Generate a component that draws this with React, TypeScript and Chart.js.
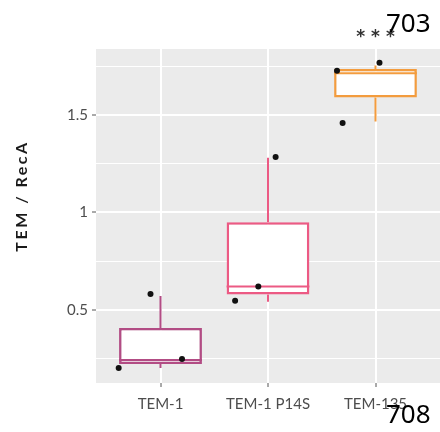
import { useEffect, useRef } from 'react';
import { Chart, registerables } from 'chart.js';

Chart.register(...registerables);

// ---- data ----
const categories = ['TEM-1', 'TEM-1 P14S', 'TEM-135'];
const boxColors = ['#B24C84', '#EC5A84', '#F39C3E'];
const q1 = [0.223, 0.58, 1.589];
const medians = [0.244, 0.62, 1.714];
const q3 = [0.408, 0.95, 1.736];
const whiskerLow = [0.203, 0.543, 1.466];
const whiskerHigh = [0.572, 1.281, 1.753];

// jittered observations (x = category index + jitter)
const tem1X = [-0.389, -0.093, 0.2];
const tem1Y = [0.203, 0.582, 0.249];
const p14sX = [0.694, 0.91, 1.071];
const p14sY = [0.548, 0.62, 1.284];
const tem135X = [1.642, 1.694, 2.037];
const tem135Y = [1.726, 1.459, 1.767];

const yMajor = [0.5, 1, 1.5];
const yMajorLabels = ['0.5', '1', '1.5'];
const yMinor = [0.25, 0.75, 1.25, 1.75];
const yMin = 0.126;
const yMax = 1.838;
const xMin = -0.6;
const xMax = 2.6;
const yTitle = 'TEM / RecA';
const sigLabel = '***';
const sigCategory = 2;
const sigY = 1.926;
const overlayTop = '703';
const overlayBottom = '708';

const BOX_WIDTH = 0.77;
const PANEL_BG = '#EBEBEB';

export default function App() {
  const ref = useRef<HTMLCanvasElement | null>(null);

  useEffect(() => {
    document.body.style.overflow = 'hidden';
    const canvas = ref.current;
    if (!canvas) return;

    const points = [
      ...tem1X.map((x, i) => ({ x, y: tem1Y[i] })),
      ...p14sX.map((x, i) => ({ x, y: p14sY[i] })),
      ...tem135X.map((x, i) => ({ x, y: tem135Y[i] })),
    ];

    const halfBoxPx = (c: any) => {
      const s = c.chart.scales.x;
      return Math.abs(s.getPixelForValue(BOX_WIDTH / 2) - s.getPixelForValue(0));
    };

    const whiskerSets = categories.map((_, i) => ({
      type: 'line' as const,
      data: [
        { x: i, y: q3[i] },
        { x: i, y: whiskerHigh[i] },
        { x: i, y: null },
        { x: i, y: q1[i] },
        { x: i, y: whiskerLow[i] },
      ],
      borderColor: boxColors[i],
      borderWidth: 2,
      pointRadius: 0,
      spanGaps: false,
      order: 3,
    }));

    const panelPlugin = {
      id: 'panelBg',
      beforeDraw(chart: any) {
        const { ctx, chartArea: a } = chart;
        ctx.save();
        ctx.fillStyle = PANEL_BG;
        ctx.fillRect(a.left, a.top, a.right - a.left, a.bottom - a.top);
        ctx.restore();
      },
    };

    const textPlugin = {
      id: 'texts',
      afterDraw(chart: any) {
        const { ctx } = chart;
        const xs = chart.scales.x;
        const ys = chart.scales.y;
        ctx.save();
        // y title
        ctx.translate(22, 197);
        ctx.rotate(-Math.PI / 2);
        ctx.font = 'bold 16px Lato';
        ctx.fillStyle = '#1A1A1A';
        ctx.textAlign = 'center';
        ctx.textBaseline = 'middle';
        (ctx as any).letterSpacing = '2.5px';
        ctx.fillText(yTitle, 1, 0);
        ctx.restore();

        // significance stars
        ctx.save();
        ctx.font = 'bold 17px "DejaVu Sans"';
        (ctx as any).letterSpacing = '6px';
        ctx.fillStyle = '#333333';
        ctx.textAlign = 'center';
        ctx.textBaseline = 'alphabetic';
        ctx.fillText(sigLabel, xs.getPixelForValue(sigCategory) + 3, ys.getPixelForValue(sigY) + 10);
        ctx.restore();

        // overlay numbers
        ctx.save();
        ctx.font = '26px "Noto Sans"';
        ctx.fillStyle = '#000000';
        ctx.textAlign = 'left';
        ctx.textBaseline = 'alphabetic';
        ctx.fillText(overlayTop, 386, 32);
        ctx.fillText(overlayBottom, 386, 423);
        ctx.restore();
      },
    };

    const chart = new Chart(canvas, {
      type: 'bar',
      data: {
        datasets: [
          {
            type: 'scatter',
            data: points,
            pointRadius: 3,
            pointBackgroundColor: '#111111',
            pointBorderWidth: 0,
            order: 0,
          } as any,
          {
            type: 'scatter',
            data: categories.map((_, i) => ({ x: i, y: medians[i] })),
            pointStyle: 'line',
            pointRadius: halfBoxPx,
            pointBorderColor: boxColors,
            pointBorderWidth: 2,
            order: 1,
          } as any,
          {
            type: 'bar',
            data: categories.map((_, i) => ({ x: i, y: [q1[i], q3[i]] })),
            backgroundColor: '#FFFFFF',
            borderColor: boxColors,
            borderWidth: 2.5,
            borderSkipped: false,
            barPercentage: BOX_WIDTH,
            categoryPercentage: 1,
            order: 2,
          } as any,
          ...(whiskerSets as any[]),
        ],
      },
      options: {
        animation: false,
        responsive: false,
        devicePixelRatio: 1,
        layout: { padding: { left: 0, top: 49, right: 2, bottom: 0 } },
        plugins: { legend: { display: false }, tooltip: { enabled: false } },
        scales: {
          x: {
            type: 'linear',
            min: xMin,
            max: xMax,
            offset: false,
            border: { display: false },
            grid: {
              offset: false,
              color: '#FFFFFF',
              lineWidth: 2,
              tickColor: '#555555',
              tickWidth: 1,
              tickLength: 4,
            },
            afterBuildTicks: (s: any) => {
              s.ticks = categories.map((_, i) => ({ value: i }));
            },
            afterFit: (s: any) => {
              s.height = 49;
            },
            ticks: {
              autoSkip: false,
              maxRotation: 0,
              padding: 8,
              color: '#4D4D4D',
              font: { family: 'Lato', size: 15 },
              callback: (v: any) => categories[Math.round(Number(v))] ?? '',
            },
          },
          y: {
            type: 'linear',
            min: yMin,
            max: yMax,
            border: { display: false },
            grid: {
              color: '#FFFFFF',
              lineWidth: (c: any) => (yMajor.includes(c.tick?.value) ? 2 : 1),
              tickColor: (c: any) => (yMajor.includes(c.tick?.value) ? '#555555' : 'rgba(0,0,0,0)'),
              tickWidth: 1,
              tickLength: 4,
            },
            afterBuildTicks: (s: any) => {
              s.ticks = [...yMajor, ...yMinor].sort((a, b) => a - b).map((v) => ({ value: v }));
            },
            afterFit: (s: any) => {
              s.width = 96;
            },
            ticks: {
              autoSkip: false,
              padding: 4,
              color: '#4D4D4D',
              font: { family: 'Lato', size: 15 },
              callback: (v: any) => {
                const idx = yMajor.indexOf(Number(v));
                return idx >= 0 ? yMajorLabels[idx] : '';
              },
            },
          },
        },
      },
      plugins: [panelPlugin, textPlugin],
    });

    return () => chart.destroy();
  }, []);

  return (
    <div style={{ position: 'fixed', left: 0, top: 0, width: 444, height: 432, overflow: 'hidden' }}>
      <canvas ref={ref} width={444} height={432} style={{ display: 'block' }} />
    </div>
  );
}
